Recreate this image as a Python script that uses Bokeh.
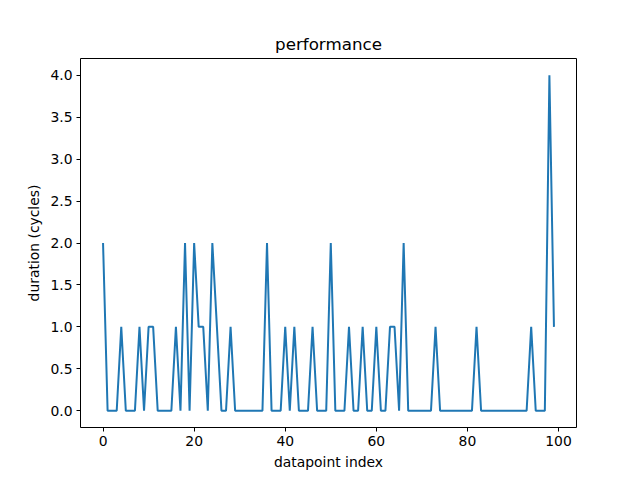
from bokeh.plotting import figure
from bokeh.models import FixedTicker, PrintfTickFormatter, Range1d
from bokeh.embed import file_html
from bokeh.resources import INLINE

# duration (cycles) per datapoint index
index = list(range(100))
duration = [2, 0, 0, 0, 1, 0, 0, 0, 1, 0,
            1, 1, 0, 0, 0, 0, 1, 0, 2, 0,
            2, 1, 1, 0, 2, 1, 0, 0, 1, 0,
            0, 0, 0, 0, 0, 0, 2, 0, 0, 0,
            1, 0, 1, 0, 0, 0, 1, 0, 0, 0,
            2, 0, 0, 0, 1, 0, 0, 1, 0, 0,
            1, 0, 0, 1, 1, 0, 2, 0, 0, 0,
            0, 0, 0, 1, 0, 0, 0, 0, 0, 0,
            0, 0, 1, 0, 0, 0, 0, 0, 0, 0,
            0, 0, 0, 0, 1, 0, 0, 0, 4, 1]
x_ticks = [0, 20, 40, 60, 80, 100]
y_ticks = [0.0, 0.5, 1.0, 1.5, 2.0, 2.5, 3.0, 3.5, 4.0]

FONT = "DejaVu Sans"

p = figure(width=640, height=480, output_backend="svg", toolbar_location=None,
           title="performance",
           x_range=Range1d(-4.95, 103.95), y_range=Range1d(-0.2, 4.2),
           min_border_left=80, min_border_right=64,
           min_border_top=58, min_border_bottom=53)

p.line(index, duration, line_color="#1f77b4", line_width=2)

p.title.align = "center"
p.title.text_font = FONT
p.title.text_font_size = "16.7px"
p.title.text_font_style = "normal"
p.title.text_color = "black"
p.title.standoff = 9

p.xgrid.visible = False
p.ygrid.visible = False
p.outline_line_color = "black"
p.outline_line_width = 1
p.outline_line_alpha = 1.0
p.background_fill_color = "white"
p.border_fill_color = "white"

p.xaxis.ticker = FixedTicker(ticks=x_ticks)
p.yaxis.ticker = FixedTicker(ticks=y_ticks)
p.yaxis.formatter = PrintfTickFormatter(format="%.1f")
p.xaxis.axis_label = "datapoint index"
p.yaxis.axis_label = "duration (cycles)"

for ax in (p.xaxis, p.yaxis):
    ax.axis_line_color = None
    ax.major_tick_line_color = "black"
    ax.major_tick_in = 0
    ax.major_tick_out = 4
    ax.minor_tick_line_color = None
    ax.major_label_text_font = FONT
    ax.major_label_text_font_size = "13.9px"
    ax.major_label_text_color = "black"
    ax.axis_label_text_font = FONT
    ax.axis_label_text_font_size = "13.9px"
    ax.axis_label_text_font_style = "normal"
    ax.axis_label_text_color = "black"
    ax.major_label_standoff = 4
    ax.axis_label_standoff = 5

open("out.html", "w").write(file_html(p, INLINE))
